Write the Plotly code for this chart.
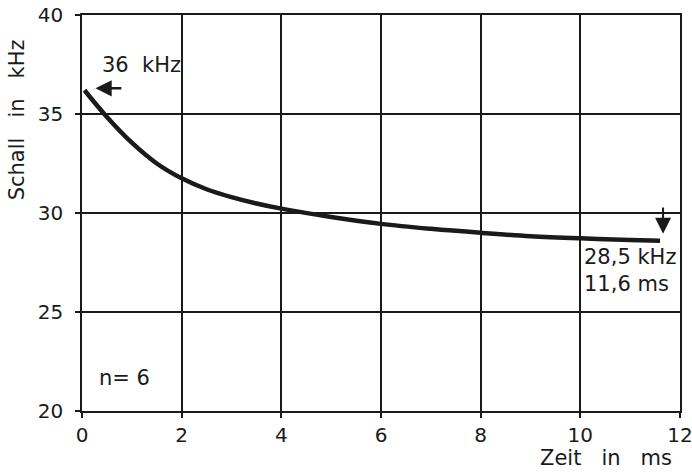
import plotly.graph_objects as go

# Data
zeit_ms = [0.05, 0.5, 1.0, 1.5, 2.0, 2.5, 3.0, 3.5, 4.0, 5.0, 6.0, 7.0, 8.0, 9.0, 10.0, 11.0, 11.6]
schall_khz = [36.2, 34.85, 33.55, 32.5, 31.75, 31.2, 30.8, 30.48, 30.22, 29.8, 29.45, 29.2, 29.0, 28.83, 28.72, 28.64, 28.6]
x_ticks = [0, 2, 4, 6, 8, 10, 12]
y_ticks = [20, 25, 30, 35, 40]

FONT = "DejaVu Sans"
INK = "#1a1a1a"
FS = 21

fig = go.Figure()
fig.add_trace(go.Scatter(x=zeit_ms, y=schall_khz, mode="lines",
                         line=dict(color=INK, width=4.5, shape="spline", smoothing=1.0),
                         hoverinfo="skip", showlegend=False))

axis_common = dict(showgrid=True, gridcolor=INK, gridwidth=1.5,
                   showline=True, linecolor=INK, linewidth=1.5, mirror=True,
                   ticks="outside", ticklen=5, tickcolor=INK, tickwidth=1.5,
                   zeroline=False, automargin=False, ticklabeloverflow="allow",
                   tickfont=dict(family=FONT, size=20, color=INK))

fig.update_xaxes(range=[0, 12], tickvals=x_ticks, **axis_common)
fig.update_yaxes(range=[20, 40], tickvals=y_ticks, ticklabelstandoff=8, **axis_common)

SP = "&nbsp;&nbsp;&nbsp;"
anns = [
    dict(x=1.19, y=37.45, text="36&nbsp;&nbsp;kHz", showarrow=False),
    dict(x=0.27, y=36.3, ax=0.82, ay=36.3, axref="x", ayref="y", text="",
         showarrow=True, arrowhead=2, arrowsize=1.3, arrowwidth=2.5, arrowcolor=INK),
    dict(x=11.66, y=28.95, ax=11.66, ay=30.35, axref="x", ayref="y", text="",
         showarrow=True, arrowhead=2, arrowsize=1.6, arrowwidth=2, arrowcolor=INK),
    dict(x=10.04, y=27.1, text="28,5 kHz<br>11,6 ms", showarrow=False,
         xanchor="left", align="left"),
    dict(x=0.3, y=21.66, text="n= 6", showarrow=False, xanchor="left"),
    dict(x=0.99, y=0, xref="paper", yref="paper", yshift=-47, text="Zeit" + SP + "in" + SP + "ms",
         showarrow=False, xanchor="right", yanchor="middle"),
    dict(x=-0.108, y=0.735, xref="paper", yref="paper", text="Schall" + SP + "in" + SP + "kHz",
         showarrow=False, textangle=-90, xanchor="center", yanchor="middle"),
]
for a in anns:
    a.setdefault("font", dict(family=FONT, size=FS, color=INK))
    a.setdefault("xref", "x")
    a.setdefault("yref", "y")
fig.update_layout(annotations=anns)

fig.update_layout(width=692, height=472, margin=dict(l=82, r=12, t=15, b=61),
                  plot_bgcolor="white", paper_bgcolor="white",
                  font=dict(family=FONT, size=FS, color=INK))

fig.write_html("out.html", config={"displayModeBar": False},
               post_script="document.body.style.margin='0';")
